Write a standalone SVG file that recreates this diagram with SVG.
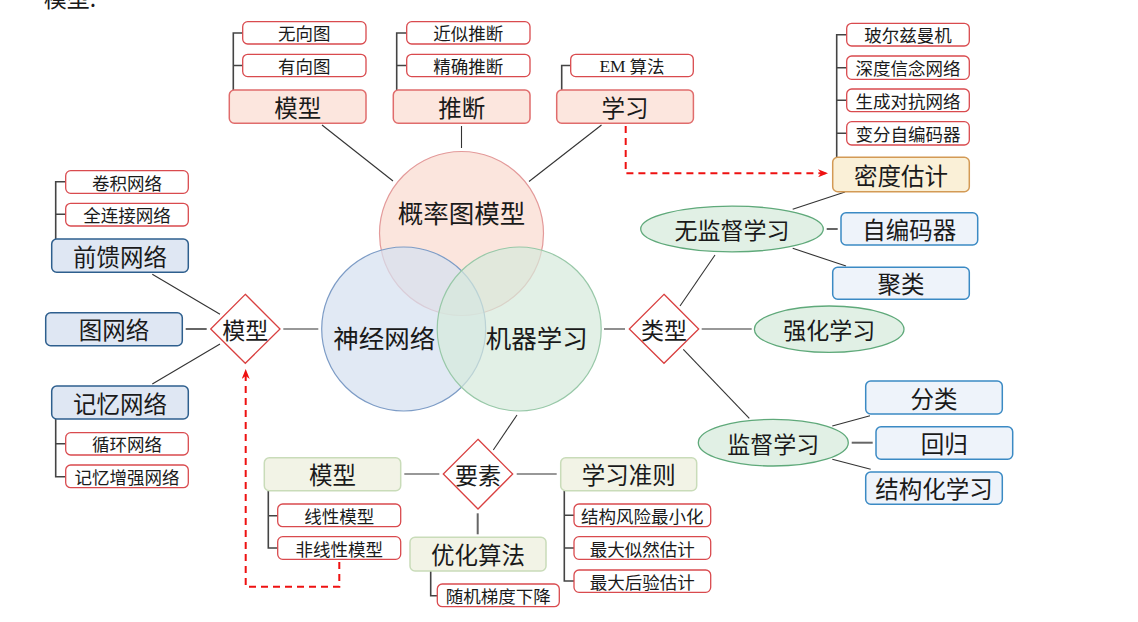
<svg xmlns="http://www.w3.org/2000/svg" width="1138" height="622" viewBox="0 0 1138 622">
<defs>
<style>
text{font-family:"Noto Sans CJK SC","Liberation Serif",sans-serif;fill:#1a1a1a;text-anchor:middle;dominant-baseline:central}
.big{font-size:23.5px}
.mid{font-size:23px}
.sm{font-size:17.5px}
.ctr{font-size:25.5px}
.sub{fill:#fff;stroke:#d94a4e;stroke-width:1.3}
.pink{fill:#fce6de;stroke:#e06c6c;stroke-width:1.5}
.dblue{fill:#dfe7f3;stroke:#2e5f8e;stroke-width:1.5}
.lblue{fill:#eef3fa;stroke:#3b8ac4;stroke-width:1.5}
.gell{fill:#e1f0e5;stroke:#5fa97a;stroke-width:1.3}
.olive{fill:#f2f3e6;stroke:#c9dcb9;stroke-width:1.5}
.gold{fill:#faf0d7;stroke:#d39a55;stroke-width:1.5}
.dia{fill:#fff;stroke:#d94040;stroke-width:1.3}
.ln{stroke:#333;stroke-width:1.1;fill:none}
.gl{stroke:#666;stroke-width:2;fill:none}
.br{stroke:#444;stroke-width:1.6;fill:none}
.dash{stroke:#ee1111;stroke-width:2;fill:none;stroke-dasharray:7,5}
</style>
<marker id="arr" markerWidth="10" markerHeight="8" refX="9" refY="4" orient="auto" markerUnits="userSpaceOnUse">
<path d="M0,0 L10,4 L0,8 L3,4 Z" fill="#ee1111"/>
</marker>
</defs>
<rect width="1138" height="622" fill="#fff"/>
<text x="70" y="-3" class="mid">模型:</text>

<g id="connectors">
<line class="ln" x1="322" y1="125" x2="393" y2="181"/>
<line class="ln" x1="461.5" y1="126" x2="461.5" y2="148"/>
<line class="ln" x1="601.5" y1="125" x2="529" y2="181.5"/>
<path class="br" d="M242.7,33 H233.3 V90 M233.3,65.5 H242.7"/>
<path class="br" d="M406.7,33 H396.7 V90 M396.7,65.5 H406.7"/>
<path class="br" d="M570.7,65.5 H561.7 V90"/>
<path class="br" d="M846.7,34.7 H836.7 V157.3 M836.7,67.7 H846.7 M836.7,100.3 H846.7 M836.7,133.3 H846.7"/>
<path class="dash" d="M625.7,126 V173.3 H827" marker-end="url(#arr)"/>
<line class="ln" x1="845" y1="192" x2="792.7" y2="209.3"/>
<line class="gl" x1="826.7" y1="229" x2="837.7" y2="229"/>
<line class="ln" x1="792.7" y1="248.3" x2="846" y2="266"/>
<line class="ln" x1="604" y1="329" x2="625" y2="329"/>
<line class="ln" x1="680" y1="306" x2="715" y2="255"/>
<line class="ln" x1="701.7" y1="329" x2="751.7" y2="329"/>
<line class="ln" x1="683.3" y1="349.3" x2="749.3" y2="418.3"/>
<line class="ln" x1="832.3" y1="426" x2="870" y2="415.7"/>
<line class="gl" x1="851.7" y1="442.7" x2="872.7" y2="442.7"/>
<line class="ln" x1="832.3" y1="459.3" x2="870.7" y2="469.3"/>
<path class="br" d="M65.7,181.7 H55.7 V239 M55.7,214.3 H65.7"/>
<line class="ln" x1="152.3" y1="274.3" x2="220" y2="314.3"/>
<line class="gl" x1="185.7" y1="329" x2="206.7" y2="329"/>
<line class="ln" x1="283.3" y1="329" x2="318.3" y2="329"/>
<line class="ln" x1="220" y1="344" x2="152.3" y2="384"/>
<path class="br" d="M55.7,419 V476.7 H65.7 M55.7,443.7 H65.7"/>
<path class="dash" d="M339.3,562 V586.7 H245.7 V370" marker-end="url(#arr)"/>
<line class="ln" x1="404.3" y1="474" x2="439.3" y2="474"/>
<line class="ln" x1="493.3" y1="450" x2="517" y2="415"/>
<line class="ln" x1="516.7" y1="474" x2="556.7" y2="474"/>
<line class="gl" x1="477.7" y1="513.3" x2="477.7" y2="534.3"/>
<path class="br" d="M430.7,571 V595.7 H437.3"/>
<path class="br" d="M268.3,490.7 V548 H277.7 M268.3,515.7 H277.7"/>
<path class="br" d="M564.3,490.7 V581 H574 M564.3,515.3 H574 M564.3,548 H574"/>
</g>

<g id="venn">
<circle cx="461.5" cy="233.5" r="82" fill="#fadcd2" fill-opacity="0.75" stroke="#e39a9a" stroke-width="1.2"/>
<circle cx="403.7" cy="329" r="82" fill="#d6e0f0" fill-opacity="0.72" stroke="#7d9cc6" stroke-width="1.2"/>
<circle cx="519.2" cy="329" r="82" fill="#d6eadc" fill-opacity="0.7" stroke="#98c8a8" stroke-width="1.2"/>
<text x="461.5" y="211" class="ctr">概率图模型</text>
<text x="384.3" y="336" class="ctr">神经网络</text>
<text x="536.7" y="336" class="ctr">机器学习</text>
</g>

<g id="pgm-model"><rect class="pink" x="229.3" y="90" width="136.7" height="33.3" rx="5"/><text x="297.7" y="106.7" class="big">模型</text></g>
<g id="undirected"><rect class="sub" x="242.7" y="21.7" width="123.3" height="22.3" rx="5"/><text x="304.3" y="32.8" class="sm">无向图</text></g>
<g id="directed"><rect class="sub" x="242.7" y="54.3" width="123.3" height="22.3" rx="5"/><text x="304.3" y="65.5" class="sm">有向图</text></g>

<g id="inference"><rect class="pink" x="393.3" y="90" width="136.7" height="33.3" rx="5"/><text x="461.7" y="106.7" class="big">推断</text></g>
<g id="approx"><rect class="sub" x="406.7" y="21.7" width="123.3" height="22.3" rx="5"/><text x="468.3" y="32.8" class="sm">近似推断</text></g>
<g id="exact"><rect class="sub" x="406.7" y="54.3" width="123.3" height="22.3" rx="5"/><text x="468.3" y="65.5" class="sm">精确推断</text></g>

<g id="pgm-learning"><rect class="pink" x="556.7" y="90" width="136.7" height="33.3" rx="5"/><text x="625" y="106.7" class="big">学习</text></g>
<g id="em"><rect class="sub" x="570.7" y="54.3" width="122.6" height="22.3" rx="5"/><text x="632" y="65.5" class="sm"><tspan font-family="Liberation Serif">EM</tspan> 算法</text></g>

<g id="density"><rect class="gold" x="832.7" y="157.3" width="136.6" height="34.4" rx="5"/><text x="901" y="174.5" class="big">密度估计</text></g>
<g id="boltzmann"><rect class="sub" x="846.7" y="23.3" width="122.6" height="22.7" rx="5"/><text x="908" y="34.7" class="sm">玻尔兹曼机</text></g>
<g id="dbn"><rect class="sub" x="846.7" y="56" width="122.6" height="23.3" rx="5"/><text x="908" y="67.7" class="sm">深度信念网络</text></g>
<g id="gan"><rect class="sub" x="846.7" y="89" width="122.6" height="22.7" rx="5"/><text x="908" y="100.3" class="sm">生成对抗网络</text></g>
<g id="vae"><rect class="sub" x="846.7" y="121.7" width="122.6" height="23.3" rx="5"/><text x="908" y="133.3" class="sm">变分自编码器</text></g>

<g id="unsupervised"><ellipse class="gell" cx="732" cy="229" rx="91.3" ry="22.9"/><text x="732" y="229" class="mid">无监督学习</text></g>
<g id="autoencoder"><rect class="lblue" x="841" y="212.7" width="136.7" height="32.3" rx="5"/><text x="909.3" y="228.8" class="big">自编码器</text></g>
<g id="clustering"><rect class="lblue" x="832.7" y="267.3" width="136.6" height="32" rx="5"/><text x="901" y="283.3" class="big">聚类</text></g>

<g id="ml-type"><polygon class="dia" points="664,294.3 698.7,329 664,363.3 629.3,329"/><text x="664" y="329" class="mid">类型</text></g>
<g id="reinforcement"><ellipse class="gell" cx="829.2" cy="329.2" rx="74.8" ry="23.2"/><text x="829.2" y="329.2" class="mid">强化学习</text></g>
<g id="supervised"><ellipse class="gell" cx="773.3" cy="442.7" rx="75" ry="23.3"/><text x="773.3" y="442.7" class="mid">监督学习</text></g>
<g id="classification"><rect class="lblue" x="865.7" y="381" width="136.6" height="33" rx="5"/><text x="934" y="397.5" class="big">分类</text></g>
<g id="regression"><rect class="lblue" x="876" y="426.7" width="136.7" height="32.6" rx="5"/><text x="944.3" y="443" class="big">回归</text></g>
<g id="structured"><rect class="lblue" x="865.7" y="472" width="136.6" height="32.3" rx="5"/><text x="934" y="488.2" class="big">结构化学习</text></g>

<g id="nn-model"><polygon class="dia" points="245.3,294.3 280,329 245.3,363.3 210.7,329"/><text x="245.3" y="329" class="mid">模型</text></g>
<g id="feedforward"><rect class="dblue" x="51.7" y="239" width="136.6" height="33.3" rx="5"/><text x="120" y="255.7" class="big">前馈网络</text></g>
<g id="cnn"><rect class="sub" x="65.7" y="170.7" width="122.6" height="22.6" rx="5"/><text x="127" y="182" class="sm">卷积网络</text></g>
<g id="fcn"><rect class="sub" x="65.7" y="203.3" width="122.6" height="22.7" rx="5"/><text x="127" y="214.7" class="sm">全连接网络</text></g>
<g id="graphnet"><rect class="dblue" x="45.7" y="312.7" width="136.6" height="33" rx="5"/><text x="114" y="329.2" class="big">图网络</text></g>
<g id="memorynet"><rect class="dblue" x="51.7" y="386" width="136.6" height="33" rx="5"/><text x="120" y="402.5" class="big">记忆网络</text></g>
<g id="rnn"><rect class="sub" x="65.7" y="432.7" width="122.6" height="22.3" rx="5"/><text x="127" y="443.8" class="sm">循环网络</text></g>
<g id="mann"><rect class="sub" x="65.7" y="465" width="122.6" height="22.7" rx="5"/><text x="127" y="476.3" class="sm">记忆增强网络</text></g>

<g id="elements"><polygon class="dia" points="478,439.3 512.7,474 478,509 443.3,474"/><text x="478" y="474" class="mid">要素</text></g>
<g id="el-model"><rect class="olive" x="264.3" y="457.7" width="136.4" height="33" rx="5"/><text x="332.5" y="474.2" class="big">模型</text></g>
<g id="linear"><rect class="sub" x="277.7" y="504" width="123" height="22.7" rx="5"/><text x="339.2" y="515.3" class="sm">线性模型</text></g>
<g id="nonlinear"><rect class="sub" x="277.7" y="536.7" width="123" height="22.6" rx="5"/><text x="339.2" y="548" class="sm">非线性模型</text></g>
<g id="criterion"><rect class="olive" x="560.7" y="457.7" width="136" height="33" rx="5"/><text x="628.7" y="474.2" class="big">学习准则</text></g>
<g id="srm"><rect class="sub" x="574" y="504" width="136.7" height="22.7" rx="5"/><text x="642.3" y="515.3" class="sm">结构风险最小化</text></g>
<g id="mle"><rect class="sub" x="574" y="536.7" width="136.7" height="22.6" rx="5"/><text x="642.3" y="548" class="sm">最大似然估计</text></g>
<g id="map"><rect class="sub" x="574" y="570" width="136.7" height="22.3" rx="5"/><text x="642.3" y="581.2" class="sm">最大后验估计</text></g>
<g id="optim"><rect class="olive" x="410" y="537.3" width="136" height="33.7" rx="5"/><text x="478" y="554.2" class="big">优化算法</text></g>
<g id="sgd"><rect class="sub" x="437.3" y="584" width="122" height="22.7" rx="5"/><text x="498.3" y="595.3" class="sm">随机梯度下降</text></g>
</svg>
